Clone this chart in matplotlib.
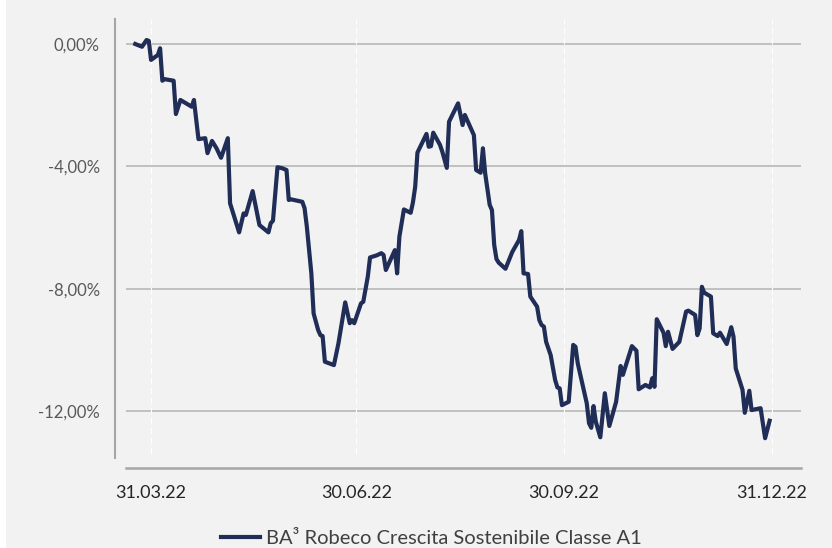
import matplotlib.pyplot as plt
import matplotlib.dates as mdates
import matplotlib.ticker as mticker
import matplotlib.patches as mpatches
import pandas as pd
import numpy as np

# Datos (rendimiento acumulado en %)
fechas = [
    '2022-03-24', '2022-03-27', '2022-03-29', '2022-03-30', '2022-03-31',
    '2022-04-03', '2022-04-04', '2022-04-05', '2022-04-06', '2022-04-10',
    '2022-04-11', '2022-04-13', '2022-04-18', '2022-04-19', '2022-04-21',
    '2022-04-24', '2022-04-25', '2022-04-27', '2022-04-29', '2022-05-01',
    '2022-05-04', '2022-05-05', '2022-05-09', '2022-05-11', '2022-05-12',
    '2022-05-15', '2022-05-18', '2022-05-22', '2022-05-23', '2022-05-24',
    '2022-05-26', '2022-05-28', '2022-05-30', '2022-05-31', '2022-06-01',
    '2022-06-06', '2022-06-07', '2022-06-08', '2022-06-10', '2022-06-11',
    '2022-06-13', '2022-06-14', '2022-06-15', '2022-06-16', '2022-06-20',
    '2022-06-22', '2022-06-25', '2022-06-27', '2022-06-28', '2022-06-29',
    '2022-07-02', '2022-07-03', '2022-07-05', '2022-07-06', '2022-07-09',
    '2022-07-11', '2022-07-12', '2022-07-13', '2022-07-17', '2022-07-18',
    '2022-07-19', '2022-07-21', '2022-07-24', '2022-07-25', '2022-07-26',
    '2022-07-27', '2022-07-31', '2022-08-01', '2022-08-02', '2022-08-03',
    '2022-08-06', '2022-08-07', '2022-08-09', '2022-08-10', '2022-08-14',
    '2022-08-16', '2022-08-17', '2022-08-21', '2022-08-22', '2022-08-24',
    '2022-08-25', '2022-08-26', '2022-08-28', '2022-08-29', '2022-08-30',
    '2022-08-31', '2022-09-01', '2022-09-04', '2022-09-07', '2022-09-10',
    '2022-09-11', '2022-09-12', '2022-09-14', '2022-09-15', '2022-09-18',
    '2022-09-19', '2022-09-20', '2022-09-21', '2022-09-22', '2022-09-24',
    '2022-09-26', '2022-09-27', '2022-09-28', '2022-09-29', '2022-10-02',
    '2022-10-04', '2022-10-05', '2022-10-06', '2022-10-08', '2022-10-10',
    '2022-10-11', '2022-10-12', '2022-10-13', '2022-10-14', '2022-10-16',
    '2022-10-18', '2022-10-20', '2022-10-23', '2022-10-25', '2022-10-26',
    '2022-10-30', '2022-11-01', '2022-11-02', '2022-11-05', '2022-11-07',
    '2022-11-08', '2022-11-09', '2022-11-10', '2022-11-13', '2022-11-14',
    '2022-11-15', '2022-11-17', '2022-11-20', '2022-11-23', '2022-11-24',
    '2022-11-27', '2022-11-28', '2022-11-29', '2022-11-30', '2022-12-01',
    '2022-12-04', '2022-12-05', '2022-12-07', '2022-12-08', '2022-12-11',
    '2022-12-13', '2022-12-14', '2022-12-15', '2022-12-18', '2022-12-19',
    '2022-12-21', '2022-12-22', '2022-12-26', '2022-12-28', '2022-12-30',
]
valores = [
    0.00, -0.09, 0.13, 0.10, -0.52,
    -0.36, -0.14, -1.20, -1.15, -1.20,
    -2.29, -1.83, -2.05, -1.83, -3.11,
    -3.08, -3.57, -3.17, -3.41, -3.72,
    -3.08, -5.21, -6.16, -5.54, -5.59,
    -4.81, -5.92, -6.16, -5.86, -5.78,
    -4.03, -4.06, -4.12, -5.10, -5.08,
    -5.16, -5.37, -5.97, -7.50, -8.81,
    -9.35, -9.52, -9.55, -10.39, -10.50,
    -9.79, -8.45, -9.13, -9.03, -9.13,
    -8.48, -8.43, -7.61, -6.98, -6.91,
    -6.84, -6.90, -7.39, -6.74, -7.50,
    -6.30, -5.41, -5.52, -5.18, -4.67,
    -3.55, -2.94, -3.36, -3.34, -2.90,
    -3.30, -3.52, -4.05, -2.54, -1.94,
    -2.65, -2.32, -2.98, -4.12, -4.21,
    -3.41, -4.23, -5.26, -5.43, -6.57,
    -7.03, -7.15, -7.35, -6.80, -6.41,
    -6.12, -7.50, -7.52, -8.26, -8.59,
    -9.03, -9.19, -9.24, -9.74, -10.17,
    -10.99, -11.23, -11.26, -11.81, -11.70,
    -9.84, -9.90, -10.44, -11.10, -11.75,
    -12.40, -12.55, -11.84, -12.35, -12.86,
    -11.42, -12.49, -11.70, -10.53, -10.82,
    -9.88, -10.03, -11.29, -11.15, -11.23,
    -10.93, -11.21, -9.00, -9.44, -9.88,
    -9.41, -9.97, -9.74, -8.75, -8.72,
    -8.86, -9.52, -9.30, -7.94, -8.13,
    -8.26, -9.46, -9.55, -9.44, -9.81,
    -9.26, -9.57, -10.61, -11.31, -12.06,
    -11.34, -11.97, -11.91, -12.89, -12.32,
]
nombre_serie = 'BA³ Robeco Crescita Sostenibile Classe A1'
fechas_ticks = ['2022-03-31', '2022-06-30', '2022-09-30', '2022-12-31']
etiquetas_x = ['31.03.22', '30.06.22', '30.09.22', '31.12.22']
valores_ticks_y = [0, -4, -8, -12]

fechas = pd.to_datetime(fechas)
fechas_ticks = pd.to_datetime(fechas_ticks)

# Colores y fuentes
fondo = '#f2f2f2'
azul = '#1f2d57'
gris_eje = '#a6a6a6'
gris_grid = '#b3b3b3'
fuente = ['Lato', 'DejaVu Sans']
plt.rcParams['font.family'] = fuente

fig = plt.figure(figsize=(8.32, 5.48), dpi=100, facecolor=fondo)
fig.patches.append(mpatches.Rectangle((0, 0), 6 / 832, 1, transform=fig.transFigure,
                                      facecolor='white', edgecolor='none', zorder=0))
ax = fig.add_axes([126 / 832, 1 - 468 / 548, 675 / 832, 449 / 548])
ax.set_facecolor(fondo)

# Límites de ejes
x0 = mdates.date2num(pd.Timestamp('2022-03-31'))
ax.set_xlim(x0 - 11.1, x0 + 287.9)
ax.set_ylim(-13.865, 0.8175)

# Líneas de cuadrícula
for v in valores_ticks_y:
    ax.axhline(v, color=gris_grid, lw=1.1, zorder=1)
ax.vlines(fechas_ticks, -13.4, 0.8175, colors='white', lw=0.8,
          linestyles=(0, (6, 3)), zorder=1)

# Serie
ax.plot(fechas, valores, color=azul, lw=3.0, label=nombre_serie, zorder=3)

# Ejes
for lado in ['top', 'right']:
    ax.spines[lado].set_visible(False)
ax.spines['left'].set_position(('outward', 7.9))
ax.spines['left'].set_bounds(-13.54, 0.8175)
ax.spines['left'].set_color(gris_eje)
ax.spines['left'].set_linewidth(1.5)
ax.spines['bottom'].set_color(gris_eje)
ax.spines['bottom'].set_linewidth(1.8)

ax.set_yticks(valores_ticks_y)
ax.yaxis.set_major_formatter(mticker.FuncFormatter(lambda v, p: f'{v:.2f}%'.replace('.', ',')))
ax.set_xticks(fechas_ticks)
ax.set_xticklabels(etiquetas_x)
ax.tick_params(axis='y', length=0, pad=11, labelsize=12, labelcolor='#595959')
ax.tick_params(axis='x', length=0, pad=12, labelsize=13, labelcolor='#262626')

# Leyenda
fig.legend(loc='center', bbox_to_anchor=(0.5187, 0.018), frameon=False,
           fontsize=14.5, handlelength=1.95, handletextpad=0.3,
           labelcolor='#404040')

fig.savefig('out.png', dpi=100, facecolor=fondo)
